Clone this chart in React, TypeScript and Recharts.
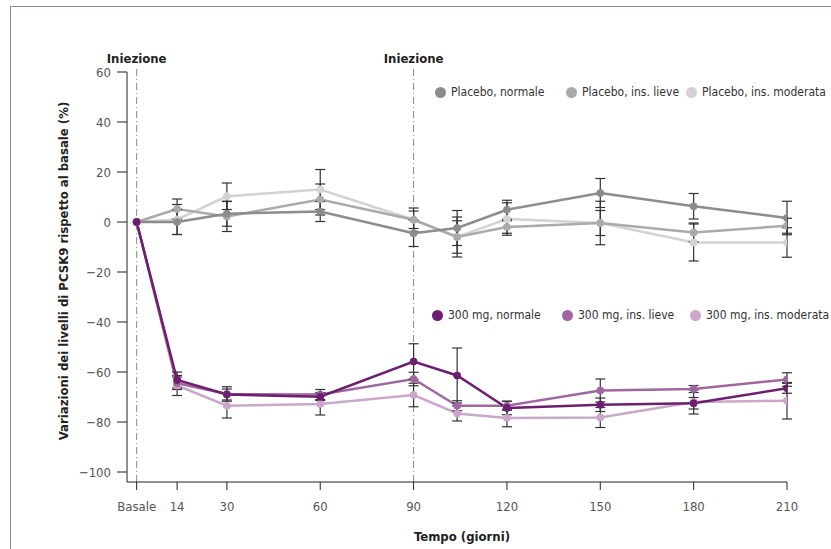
import React from "react";
import {
  LineChart,
  Line,
  XAxis,
  YAxis,
  ReferenceLine,
  ErrorBar,
} from "recharts";

const days = [1, 14, 30, 60, 90, 104, 120, 150, 180, 210];
const xTicks = [1, 14, 30, 60, 90, 120, 150, 180, 210];
const xTickLabels = ["Basale", "14", "30", "60", "90", "120", "150", "180", "210"];
const yTicks = [60, 40, 20, 0, -20, -40, -60, -80, -100];
const injectionDays = [1, 90];

const placeboNormale = [0, 0, 3.3, 4.2, -4.5, -2.4, 4.9, 11.6, 6.3, 1.6];
const placeboNormaleErr = [0, 5, 5, 4, 5.3, 7, 3.8, 5.8, 5.1, 6.7];
const placeboLieve = [0, 5.2, 2.2, 9, 0.9, -6, -2, -0.4, -4.2, -1.5];
const placeboLieveErr = [0, 4, 6, 6.2, 3.5, 8, 2.5, 5, 3.8, 3];
const placeboModerata = [0, 1, 10.3, 13, 0.9, -6, 1.2, -0.4, -8.2, -8.2];
const placeboModerataErr = [0, 6, 5.3, 8, 4.7, 6.5, 6.5, 8.7, 7.4, 5.9];

const dose300Normale = [0, -63.2, -69, -69.9, -55.8, -61.4, -74.4, -73.1, -72.5, -66.5];
const dose300NormaleErr = [0, 3.2, 2.2, 1.5, 7.1, 11, 2.7, 2.7, 2.3, 2];
const dose300Lieve = [0, -64.5, -68.8, -69, -62.8, -73.5, -73.5, -67.4, -66.8, -63];
const dose300LieveErr = [0, 2.5, 2.9, 2, 2.7, 2, 1.8, 4.6, 1.4, 2.7];
const dose300Moderata = [0, -65.4, -73.5, -72.8, -69.2, -76.6, -78.4, -78.2, -72, -71.5];
const dose300ModerataErr = [0, 4, 4.9, 4.4, 4.7, 3, 3.5, 4, 4.8, 7.3];

const seriesNames = [
  "Placebo, normale",
  "Placebo, ins. lieve",
  "Placebo, ins. moderata",
  "300 mg, normale",
  "300 mg, ins. lieve",
  "300 mg, ins. moderata",
];

const COLORS = {
  pn: "#8c8c8c",
  pl: "#aaaaaa",
  pm: "#d3d3d3",
  dn: "#6e1e6e",
  dl: "#a066a0",
  dm: "#cba7cb",
};

const FONT = "'DejaVu Sans Condensed', 'Liberation Sans Narrow', sans-serif";

const data = days.map((d, i) => ({
  day: d,
  pn: placeboNormale[i],
  pnE: placeboNormaleErr[i],
  pl: placeboLieve[i],
  plE: placeboLieveErr[i],
  pm: placeboModerata[i],
  pmE: placeboModerataErr[i],
  dn: dose300Normale[i],
  dnE: dose300NormaleErr[i],
  dl: dose300Lieve[i],
  dlE: dose300LieveErr[i],
  dm: dose300Moderata[i],
  dmE: dose300ModerataErr[i],
}));

const legendRows = [
  {
    top: 92,
    items: [
      { name: seriesNames[0], color: COLORS.pn, x: 441 },
      { name: seriesNames[1], color: COLORS.pl, x: 572 },
      { name: seriesNames[2], color: COLORS.pm, x: 692 },
    ],
  },
  {
    top: 315,
    items: [
      { name: seriesNames[3], color: COLORS.dn, x: 438 },
      { name: seriesNames[4], color: COLORS.dl, x: 568 },
      { name: seriesNames[5], color: COLORS.dm, x: 696 },
    ],
  },
];

const lineProps = (key: string, name: string) => ({
  type: "linear" as const,
  dataKey: key,
  name,
  stroke: COLORS[key as keyof typeof COLORS],
  strokeWidth: 2.5,
  dot: { r: 3.5, fill: COLORS[key as keyof typeof COLORS], stroke: COLORS[key as keyof typeof COLORS], strokeWidth: 1 },
  isAnimationActive: false,
});

export default function App() {
  return (
    <div
      style={{
        position: "absolute",
        left: 0,
        top: 0,
        width: 831,
        height: 549,
        background: "#fff",
        overflow: "hidden",
        fontFamily: FONT,
      }}
    >
      <div
        style={{
          position: "absolute",
          left: 10,
          top: 6,
          width: 840,
          height: 560,
          borderLeft: "1.5px solid #8f8696",
          borderTop: "1.5px solid #8f8696",
        }}
      />
      <div style={{ position: "absolute", left: 0, top: 0 }}>
        <LineChart
          width={831}
          height={549}
          data={data}
          margin={{ top: 72, right: 44, bottom: 0, left: 0 }}
        >
          <XAxis
            dataKey="day"
            type="number"
            domain={[-2.1, 210]}
            ticks={xTicks}
            tickFormatter={(v: number) => xTickLabels[xTicks.indexOf(v)]}
            height={67}
            tickSize={8}
            tickMargin={12}
            stroke="#222"
            tick={{ fill: "#555", fontSize: 13, fontFamily: FONT }}
            allowDataOverflow
            label={{
              value: "Tempo (giorni)",
              position: "insideBottom",
              offset: 8,
              dx: 5,
              fill: "#222",
              fontSize: 13,
              fontWeight: 700,
              fontFamily: FONT,
            }}
          />
          <YAxis
            type="number"
            domain={[-104, 60]}
            ticks={yTicks}
            interval={0}
            width={127}
            tickSize={10}
            tickMargin={6}
            stroke="#222"
            tick={{ fill: "#555", fontSize: 13, fontFamily: FONT }}
            tickFormatter={(v: number) => (v < 0 ? `\u2212${Math.abs(v)}` : `${v}`)}
            allowDataOverflow
            label={{
              value: "Variazioni dei livelli di PCSK9 rispetto al basale (%)",
              angle: -90,
              position: "center",
              dx: 0,
              dy: -6,
              fill: "#222",
              fontSize: 13,
              fontWeight: 700,
              fontFamily: FONT,
            }}
          />
          {injectionDays.map((d) => (
            <ReferenceLine
              key={d}
              segment={[
                { x: d, y: -104 },
                { x: d, y: 62 },
              ]}
              ifOverflow="visible"
              stroke="#8a8a8a"
              strokeWidth={1}
              strokeDasharray="7 3 1 3"
              label={{
                value: "Iniezione",
                position: "top",
                offset: 4,
                fill: "#222",
                fontSize: 13,
                fontWeight: 700,
                fontFamily: FONT,
              }}
            />
          ))}
          <Line {...lineProps("pm", seriesNames[2])}>
            <ErrorBar dataKey="pmE" width={5} stroke="#333" strokeWidth={1.2} direction="y" />
          </Line>
          <Line {...lineProps("pl", seriesNames[1])}>
            <ErrorBar dataKey="plE" width={5} stroke="#333" strokeWidth={1.2} direction="y" />
          </Line>
          <Line {...lineProps("pn", seriesNames[0])}>
            <ErrorBar dataKey="pnE" width={5} stroke="#333" strokeWidth={1.2} direction="y" />
          </Line>
          <Line {...lineProps("dm", seriesNames[5])}>
            <ErrorBar dataKey="dmE" width={5} stroke="#333" strokeWidth={1.2} direction="y" />
          </Line>
          <Line {...lineProps("dl", seriesNames[4])}>
            <ErrorBar dataKey="dlE" width={5} stroke="#333" strokeWidth={1.2} direction="y" />
          </Line>
          <Line {...lineProps("dn", seriesNames[3])}>
            <ErrorBar dataKey="dnE" width={5} stroke="#333" strokeWidth={1.2} direction="y" />
          </Line>
        </LineChart>
      </div>
      {legendRows.map((row, ri) =>
        row.items.map((it, ii) => (
          <div
            key={`${ri}-${ii}`}
            style={{
              position: "absolute",
              left: it.x - 6,
              top: row.top - 9,
              height: 18,
              display: "flex",
              alignItems: "center",
              whiteSpace: "nowrap",
              fontSize: 12,
              color: "#333",
              fontFamily: FONT,
            }}
          >
            <span
              style={{
                display: "inline-block",
                width: 11,
                height: 11,
                borderRadius: "50%",
                background: it.color,
                marginRight: 5,
              }}
            />
            {it.name}
          </div>
        ))
      )}
    </div>
  );
}
